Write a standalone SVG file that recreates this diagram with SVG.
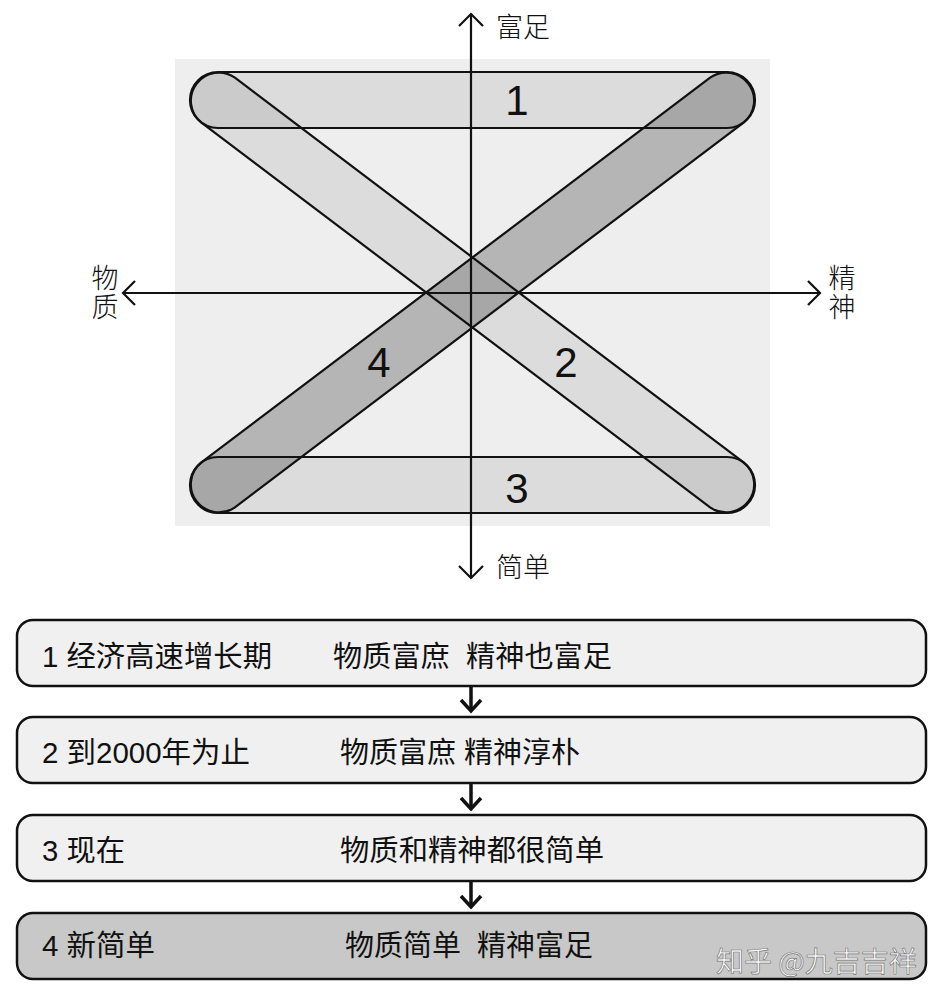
<svg xmlns="http://www.w3.org/2000/svg" width="943" height="1000" viewBox="0 0 943 1000">
<style>
.lbl{font-family:"Noto Sans CJK SC","Liberation Sans",sans-serif;font-size:27px;fill:#111;font-weight:300}
.vl{writing-mode:vertical-rl;letter-spacing:2px}
.num{font-family:"Liberation Sans",Arial,sans-serif;font-size:42px;fill:#111}
.bt{font-family:"Liberation Sans","Noto Sans CJK SC",sans-serif;font-size:29px;fill:#111;white-space:pre}
.ax{stroke:#111;stroke-width:2.2;fill:none}
.bandline{fill:none;stroke:#111;stroke-width:2.2}
.light{fill:#000;fill-opacity:0.075}
.dark{fill:#000;fill-opacity:0.24}
.box{stroke:#111;stroke-width:2.5}
.conn{stroke:#111;stroke-width:3.5;fill:none}
</style>
<defs>
<path id="b2" d="M234.9,77.7 L743.9,462.7 A28,28 0 0 1 710.1,507.3 L201.1,122.3 A28,28 0 0 1 234.9,77.7 Z"/>
<path id="b4" d="M201.1,462.7 L710.1,77.7 A28,28 0 0 1 743.9,122.3 L234.9,507.3 A28,28 0 0 1 201.1,462.7 Z"/>
<rect id="b1" x="190" y="72" width="565" height="56" rx="28"/>
<rect id="b3" x="190" y="457" width="565" height="56" rx="28"/>
</defs>
<rect x="0" y="0" width="943" height="1000" fill="#ffffff"/>
<g id="chart">
<rect x="175" y="59" width="595" height="467" fill="#eeeeee"/>
<g id="band2"><use href="#b2" class="light"/></g>
<g id="band4"><use href="#b4" class="dark"/></g>
<g id="band1"><use href="#b1" class="light"/></g>
<g id="band3"><use href="#b3" class="light"/></g>
<use href="#b2" class="bandline"/>
<use href="#b4" class="bandline"/>
<use href="#b1" class="bandline"/>
<use href="#b3" class="bandline"/>
<text class="num" x="517" y="115" text-anchor="middle">1</text>
<text class="num" x="566" y="377" text-anchor="middle">2</text>
<text class="num" x="517" y="503" text-anchor="middle">3</text>
<text class="num" x="379" y="377" text-anchor="middle">4</text>
</g>
<g id="axes">
<line class="ax" x1="471" y1="14" x2="471" y2="578"/>
<polyline class="ax" points="459,26 471,14 483,26"/>
<polyline class="ax" points="459,566 471,578 483,566"/>
<line class="ax" x1="123" y1="293" x2="820" y2="293"/>
<polyline class="ax" points="135,281 123,293 135,305"/>
<polyline class="ax" points="808,281 820,293 808,305"/>
<text class="lbl" x="496" y="37">富足</text>
<text class="lbl" x="496" y="577">简单</text>
<text class="lbl vl" x="105" y="264">物质</text>
<text class="lbl vl" x="842" y="264">精神</text>
</g>
<g id="step1">
<rect class="box" x="17" y="620" width="909" height="66" rx="16" fill="#f0f0f0"/>
<text class="bt" x="42" y="667" textLength="230" lengthAdjust="spacingAndGlyphs">1 经济高速增长期</text>
<text class="bt" x="333" y="667" textLength="279" lengthAdjust="spacingAndGlyphs">物质富庶  精神也富足</text>
</g>
<g id="step2">
<rect class="box" x="17" y="717" width="909" height="66" rx="16" fill="#f0f0f0"/>
<text class="bt" x="42" y="763" textLength="208" lengthAdjust="spacingAndGlyphs">2 到2000年为止</text>
<text class="bt" x="340" y="763" textLength="240" lengthAdjust="spacingAndGlyphs">物质富庶 精神淳朴</text>
</g>
<g id="step3">
<rect class="box" x="17" y="815" width="909" height="66" rx="16" fill="#f0f0f0"/>
<text class="bt" x="42" y="861" textLength="83" lengthAdjust="spacingAndGlyphs">3 现在</text>
<text class="bt" x="340" y="861" textLength="264" lengthAdjust="spacingAndGlyphs">物质和精神都很简单</text>
</g>
<g id="step4">
<rect class="box" x="17" y="913" width="909" height="66" rx="16" fill="#c8c8c8"/>
<text class="bt" x="42" y="956" textLength="113" lengthAdjust="spacingAndGlyphs">4 新简单</text>
<text class="bt" x="345" y="956" textLength="248" lengthAdjust="spacingAndGlyphs">物质简单  精神富足</text>
</g>
<g id="connectors">
<line class="conn" x1="471" y1="687" x2="471" y2="711"/>
<polyline class="conn" points="461,700 471,711 481,700"/>
<line class="conn" x1="471" y1="784" x2="471" y2="809"/>
<polyline class="conn" points="461,798 471,809 481,798"/>
<line class="conn" x1="471" y1="882" x2="471" y2="907"/>
<polyline class="conn" points="461,896 471,907 481,896"/>
</g>
<text x="716" y="972" font-family="Noto Sans CJK SC,sans-serif" font-size="28" fill="#ffffff" stroke="#777" stroke-width="0.7">知乎 @九吉吉祥</text>
</svg>
